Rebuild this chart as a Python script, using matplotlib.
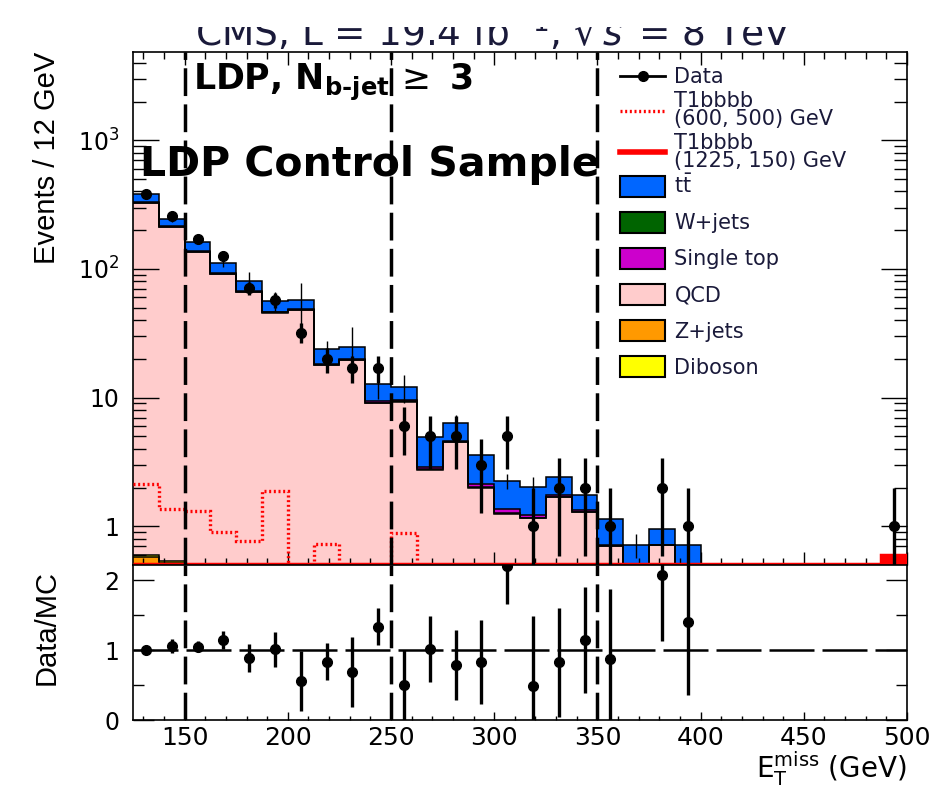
import numpy as np
import matplotlib
matplotlib.use("Agg")
import matplotlib.pyplot as plt
from matplotlib.lines import Line2D
from matplotlib.patches import Patch, Rectangle
from matplotlib.ticker import FixedLocator, NullFormatter

plt.rcParams['font.family'] = ['DejaVu Sans']
plt.rcParams['mathtext.fontset'] = 'dejavusans'

# ---------------- data ----------------
bin_edges = [125.0, 137.5, 150.0, 162.5, 175.0, 187.5, 200.0, 212.5, 225.0, 237.5,
             250.0, 262.5, 275.0, 287.5, 300.0, 312.5, 325.0, 337.5, 350.0, 362.5,
             375.0, 387.5, 400.0, 412.5, 425.0, 437.5, 450.0, 462.5, 475.0, 487.5, 500.0]

data_counts = [380, 259, 171, 127, 71, 57, 32, 20, 17, 17, 6, 5, 5, 3, 5, 1, 2, 2, 1, 0,
               2, 1, 0, 0, 0, 0, 0, 0, 0, 1]

zjets = [0.58, 0.52, 0, 0, 0, 0, 0, 0, 0, 0, 0, 0, 0, 0, 0, 0, 0, 0, 0, 0,
         0, 0, 0, 0, 0, 0, 0, 0, 0, 0]
diboson = [0.02, 0.02, 0.01, 0.01, 0, 0, 0, 0, 0, 0, 0, 0, 0, 0, 0, 0, 0, 0, 0, 0,
           0, 0, 0, 0, 0, 0, 0, 0, 0, 0]
qcd = [324, 211, 136, 91, 66, 45.8, 48, 17.9, 19.6, 9.1, 9.3, 2.75, 4.5, 2.0, 1.25,
       1.15, 1.70, 1.30, 0.70, 0.40, 0.71, 0.40, 0, 0, 0, 0, 0, 0, 0, 0]
wjets = [1.0, 0.8, 0.5, 0.4, 0.3, 0.2, 0.2, 0.1, 0.1, 0.05, 0.05, 0.03, 0.03, 0.02,
         0.01, 0, 0, 0, 0, 0, 0, 0, 0, 0, 0, 0, 0, 0, 0, 0]
single_top = [3.0, 2.0, 1.5, 1.0, 0.8, 0.6, 0.5, 0.3, 0.3, 0.2, 0.15, 0.12, 0.1, 0.12,
              0.1, 0.08, 0.05, 0.03, 0.02, 0, 0, 0, 0, 0, 0, 0, 0, 0, 0, 0]
ttbar = [52, 31, 25, 18.6, 12.9, 9.8, 8.7, 5.6, 4.6, 3.35, 2.5, 2.0, 1.7, 1.45, 0.9,
         0.8, 0.66, 0.42, 0.42, 0.32, 0.25, 0.31, 0, 0, 0, 0, 0, 0, 0, 0]
mc_err = [15, 12, 8, 7, 15, 10, 21, 3.4, 11, 3, 3, 1.5, 1.0, 1.0, 0.3, 0.4, 0.5, 0.4,
          0.3, 0.15, 0.3, 0.3, 0, 0, 0, 0, 0, 0, 0, 0]

sig_600_500 = [2.12, 1.36, 1.32, 0.91, 0.77, 1.88, 0.1, 0.73, 0.1, 0.1, 0.89, 0.1, 0.1,
               0.1, 0.1, 0.1, 0.1, 0.1, 0.1, 0.1, 0.1, 0.1, 0.1, 0.1, 0.1, 0.1, 0.1,
               0.1, 0.1, 0.1]
sig_1225_150 = [0.51, 0.51, 0.51, 0.51, 0.51, 0.51, 0.51, 0.51, 0.51, 0.51,
                0.51, 0.51, 0.51, 0.51, 0.51, 0.51, 0.51, 0.51, 0.51, 0.51,
                0.51, 0.51, 0.51, 0.51, 0.51, 0.51, 0.51, 0.51, 0.51, 0.6]

ratio_err = [0.06, 0.1, 0.08, 0.13, 0.2, 0.25, 0.43, 0.27, 0.5, 0.27, 0.5, 0.47, 0.5,
             0.6, 0.55, 1.0, 0.78, 0.76, 1.0, 0, 0.95, 1.05, 0, 0, 0, 0, 0, 0, 0, 0]

cut_values = [150, 250, 350]
x_ticks = [150, 200, 250, 300, 350, 400, 450, 500]
x_ticklabels = ['150', '200', '250', '300', '350', '400', '450', '500']
y_ticks = [1, 10, 100, 1000]
y_ticklabels = ['1', '10', '$10^{2}$', '$10^{3}$']
r_ticks = [0, 1, 2]
r_ticklabels = ['0', '1', '2']

components = [
    ('Z+jets', zjets, '#ff9900'),
    ('Diboson', diboson, '#ffff00'),
    ('QCD', qcd, '#ffcccc'),
    ('W+jets', wjets, '#006400'),
    ('Single top', single_top, '#cc00cc'),
    (r'$\mathrm{t\bar{t}}$', ttbar, '#0066ff'),
]
legend_order = [r'$\mathrm{t\bar{t}}$', 'W+jets', 'Single top', 'QCD', 'Z+jets', 'Diboson']

# ---------------- figure ----------------
W, H = 941, 791
fig = plt.figure(figsize=(W / 100, H / 100), dpi=100)

def fx(px):
    return px / W

def fy(py):
    return 1 - py / H

L, R = 133, 907
T, M, B = 52, 565, 720
ax = fig.add_axes([fx(L), fy(M), fx(R) - fx(L), fy(T) - fy(M)])
axr = fig.add_axes([fx(L), fy(B), fx(R) - fx(L), fy(M) - fy(B)], sharex=ax)

edges = np.array(bin_edges)
centers = 0.5 * (edges[:-1] + edges[1:])
floor = 1e-3

ax.set_yscale('log')
ax.set_xlim(125, 500)
ax.set_ylim(0.5, 4850)

cum = np.zeros(len(centers))
for name, vals, col in components:
    vals = np.array(vals, dtype=float)
    top = cum + vals
    ax.stairs(np.maximum(top, floor), edges, baseline=np.maximum(cum, floor),
              fill=True, facecolor=col, edgecolor='none', zorder=1)
    cum = top
total = cum.copy()

# outlines
cum = np.zeros(len(centers))
for name, vals, col in components:
    cum = cum + np.array(vals, dtype=float)
    if np.any(np.array(vals) > 0):
        ax.stairs(np.maximum(cum, floor), edges, baseline=None, color='black',
                  lw=1.1, zorder=2)

# MC uncertainty (thin)
mce = np.array(mc_err)
sel = total > 0
ax.errorbar(centers[sel], total[sel], yerr=mce[sel], fmt='none', ecolor='black',
            elinewidth=1.0, capsize=0, zorder=3)

# signals
sig2 = np.array(sig_1225_150)
ax.stairs(sig2, edges, baseline=floor, fill=True, facecolor='red',
          edgecolor='none', zorder=3)
ax.stairs(sig2, edges, baseline=None, color='red', lw=2.5, zorder=3)
ax.stairs(sig_600_500, edges, baseline=None, color='red', lw=2.4,
          linestyle=(0, (0.6, 0.8)), zorder=3)

# data
dc = np.array(data_counts, dtype=float)
m = dc > 0
err = np.sqrt(dc[m])
lo = np.minimum(err, dc[m] - 1e-3)
ax.errorbar(centers[m], dc[m], yerr=[lo, err], fmt='o', color='black', ms=7,
            elinewidth=2.4, capsize=0, zorder=6)

for c in cut_values:
    ax.axvline(c, color='black', lw=2.5, dashes=(8, 2.4), zorder=5)
    axr.axvline(c, color='black', lw=2.5, dashes=(8, 2.4), zorder=5)

# ticks main
ax.yaxis.set_major_locator(FixedLocator(y_ticks))
ax.set_yticklabels(y_ticklabels)
minor_y = [k * 10 ** e for e in range(-1, 4) for k in range(2, 10)]
ax.yaxis.set_minor_locator(FixedLocator(minor_y))
ax.yaxis.set_minor_formatter(NullFormatter())
ax.xaxis.set_major_locator(FixedLocator(x_ticks))
ax.xaxis.set_minor_locator(FixedLocator(list(range(130, 500, 10))))
ax.tick_params(axis='y', which='major', direction='in', length=19, width=1,
               left=True, right=True, labelsize=17, pad=10)
ax.tick_params(axis='y', which='minor', direction='in', length=9.5, width=1,
               left=True, right=True)
ax.tick_params(axis='x', which='major', direction='in', length=9.5, width=1,
               top=True, bottom=True, labelbottom=False)
ax.tick_params(axis='x', which='minor', direction='in', length=5, width=1,
               top=True, bottom=True)
for s in ax.spines.values():
    s.set_linewidth(1.2)

ax.set_ylabel('Events / 12 GeV', family=['Liberation Sans'], fontsize=21, loc='top')
ax.yaxis.set_label_coords(-0.093, 1.0)

# texts
ax.text((193 - L) / (R - L), (M - 90) / (M - T),
        'LDP, N$_{\\mathbf{b\u2010jet}}$$\\,\\geq$ 3', fontsize=25, fontweight='bold',
        transform=ax.transAxes, va='baseline', ha='left', zorder=8)
ax.text((140 - L) / (R - L), (M - 176) / (M - T), 'LDP Control Sample',
        fontsize=29.5, fontweight='bold', transform=ax.transAxes, va='baseline',
        ha='left', zorder=8)

# legends
fs_leg = 15
h1 = [Line2D([0], [0], color='black', lw=2, marker='o', ms=7),
      Line2D([0], [0], color='red', lw=2.4, linestyle=(0, (0.6, 0.8))),
      Line2D([0], [0], color='red', lw=4)]
l1 = ['Data', 'T1bbbb\n(600, 500) GeV', 'T1bbbb\n(1225, 150) GeV']
leg1 = ax.legend(h1, l1, loc='upper left',
                 bbox_to_anchor=((620 - L) / (R - L), (M - 67) / (M - T)),
                 frameon=False, fontsize=fs_leg, handlelength=2.16, handleheight=0.7,
                 handletextpad=0.45, labelspacing=0.2, borderpad=0, borderaxespad=0)
for t in leg1.get_texts():
    t.set_linespacing(0.85)
    t.set_color('#1a1a3a')
ax.add_artist(leg1)

comp_map = {n: c for n, v, c in components}
h2 = [Patch(facecolor=comp_map[n], edgecolor='black', lw=1.5) for n in legend_order]
leg2 = ax.legend(h2, legend_order, loc='upper left',
                 bbox_to_anchor=((620 - L) / (R - L), (M - 174) / (M - T)),
                 frameon=False, fontsize=fs_leg, handlelength=2.16, handleheight=1.2,
                 handletextpad=0.45, labelspacing=0.69, borderpad=0, borderaxespad=0)
for t in leg2.get_texts():
    t.set_color('#1a1a3a')

# ---------------- ratio ----------------
mr = (dc > 0) & (total > 0)
ratio = dc[mr] / total[mr]
rerr = np.array(ratio_err)[mr]
axr.set_ylim(0, 2.22)
axr.axhline(1, color='black', lw=1.8, dashes=(18, 3.2), zorder=2)
axr.errorbar(centers[mr], ratio, yerr=rerr, fmt='o', color='black', ms=7,
             elinewidth=2.4, capsize=0, zorder=6)
axr.yaxis.set_major_locator(FixedLocator(r_ticks))
axr.set_yticklabels(r_ticklabels)
axr.yaxis.set_minor_locator(FixedLocator([0.5, 1.5]))
axr.xaxis.set_major_locator(FixedLocator(x_ticks))
axr.set_xticklabels(x_ticklabels)
axr.xaxis.set_minor_locator(FixedLocator(list(range(130, 500, 10))))
axr.tick_params(axis='y', which='major', direction='in', length=15, width=1,
                left=True, right=True, labelsize=17, pad=10)
axr.tick_params(axis='y', which='minor', direction='in', length=8, width=1,
                left=True, right=True)
axr.tick_params(axis='x', which='major', direction='in', length=6, width=1,
                top=False, bottom=True, labelsize=18, pad=4)
axr.tick_params(axis='x', which='minor', direction='in', length=3, width=1,
                top=False, bottom=True)
for s in axr.spines.values():
    s.set_linewidth(1.2)
axr.set_ylabel('Data/MC', family=['Liberation Sans'], fontsize=21, loc='top')
axr.yaxis.set_label_coords(-0.093, 0.97)
axr.set_xlabel(r'$\mathrm{E}_{\mathrm{T}}^{\mathrm{miss}}$ (GeV)', fontsize=20,
               loc='right')
axr.xaxis.label.set_verticalalignment('bottom')
axr.xaxis.set_label_coords(1.0, (B - 788) / (B - M))

# title (top part cropped as in the reference)
fig.text(fx(195), fy(46), r'CMS, L = 19.4 fb$^{-1}$, $\sqrt{s}$ = 8 TeV',
         fontsize=27, ha='left', va='baseline', color='#1a1a3a')
fig.add_artist(Rectangle((0, fy(27)), 1, 27 / H, transform=fig.transFigure,
                         facecolor='white', edgecolor='none', zorder=20))

fig.savefig('out.png', dpi=100)
